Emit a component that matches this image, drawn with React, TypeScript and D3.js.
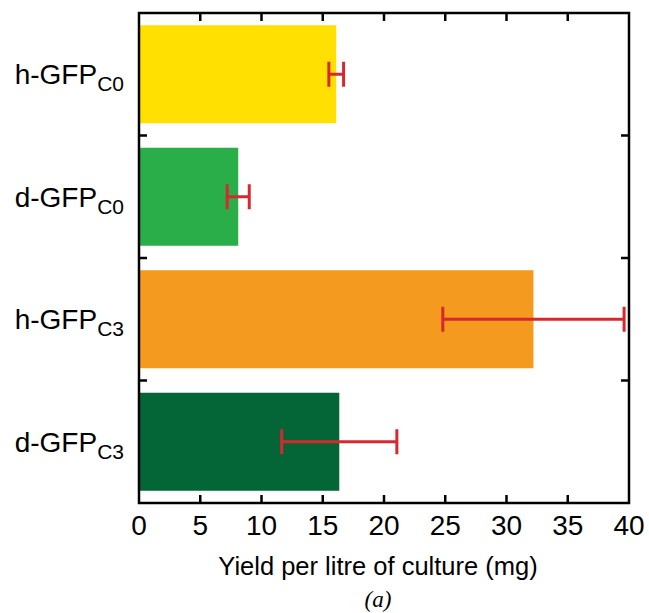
import React from "react";
import * as d3 from "d3";

const categories = ["h-GFP", "d-GFP", "h-GFP", "d-GFP"];
const subscripts = ["C0", "C0", "C3", "C3"];
const yields = [16.1, 8.1, 32.2, 16.35];
const errors = [0.6, 0.9, 7.4, 4.7];
const colors = ["#FFE000", "#2AAE4A", "#F39A1F", "#046636"];
const xTicks = [0, 5, 10, 15, 20, 25, 30, 35, 40];
const xTitle = "Yield per litre of culture (mg)";
const caption = "(a)";

const W = 649;
const H = 613;
const L = 139, R = 629, T = 13, B = 503;
const FONT = "'Liberation Sans', Arial, Helvetica, sans-serif";

export default function App() {
  const x = d3.scaleLinear().domain([0, 40]).range([L, R]);
  const idx = categories.map((_, i) => i);
  const y = d3.scaleBand<number>().domain(idx).range([T, B]).paddingInner(0.2).paddingOuter(0.1);
  const step = y.step();
  const bw = y.bandwidth();
  const tickLen = 8;
  const red = "#D7282F";
  const sepTicks = idx.slice(1).map((i) => (y(i)! - (step - bw) / 2));

  return (
    <svg width={W} height={H} style={{ position: "absolute", left: 0, top: 0, background: "#fff" }}>
      <rect x={0} y={0} width={W} height={H} fill="#fff" />
      {idx.map((i) => (
        <rect key={"b" + i} x={x(0)} y={y(i)!} width={x(yields[i]) - x(0)} height={bw} fill={colors[i]} />
      ))}
      {idx.map((i) => {
        const cy = y(i)! + bw / 2;
        const lo = x(yields[i] - errors[i]);
        const hi = x(yields[i] + errors[i]);
        return (
          <g key={"e" + i} stroke={red} strokeWidth={3}>
            <line x1={lo} x2={hi} y1={cy} y2={cy} />
            <line x1={lo} x2={lo} y1={cy - 12.5} y2={cy + 12.5} />
            <line x1={hi} x2={hi} y1={cy - 12.5} y2={cy + 12.5} />
          </g>
        );
      })}
      {xTicks.slice(1, -1).map((t) => (
        <g key={"xt" + t} stroke="#000" strokeWidth={2.5}>
          <line x1={x(t)} x2={x(t)} y1={B} y2={B - tickLen} />
          <line x1={x(t)} x2={x(t)} y1={T} y2={T + tickLen} />
        </g>
      ))}
      {sepTicks.map((v, k) => (
        <g key={"yt" + k} stroke="#000" strokeWidth={2.5}>
          <line x1={L} x2={L + tickLen} y1={v} y2={v} />
          <line x1={R} x2={R - tickLen} y1={v} y2={v} />
        </g>
      ))}
      <rect x={L} y={T} width={R - L} height={B - T} fill="none" stroke="#000" strokeWidth={2.5} />
      {xTicks.map((t) => (
        <text key={"xl" + t} x={x(t)} y={535} textAnchor="middle" fontFamily={FONT} fontSize={28} fill="#000">
          {t}
        </text>
      ))}
      {idx.map((i) => (
        <text key={"yl" + i} x={124} y={y(i)! + bw / 2 + 10} textAnchor="end" fontFamily={FONT} fontSize={28} fill="#000">
          {categories[i]}
          <tspan fontSize={21} dy={7}>{subscripts[i]}</tspan>
        </text>
      ))}
      <text x={378} y={575} textAnchor="middle" fontFamily={FONT} fontSize={25.5} fill="#000">
        {xTitle}
      </text>
      <text x={378} y={607} textAnchor="middle" fontFamily="'Liberation Serif', 'Times New Roman', serif" fontStyle="italic" fontSize={23} fill="#000">
        {caption}
      </text>
    </svg>
  );
}
